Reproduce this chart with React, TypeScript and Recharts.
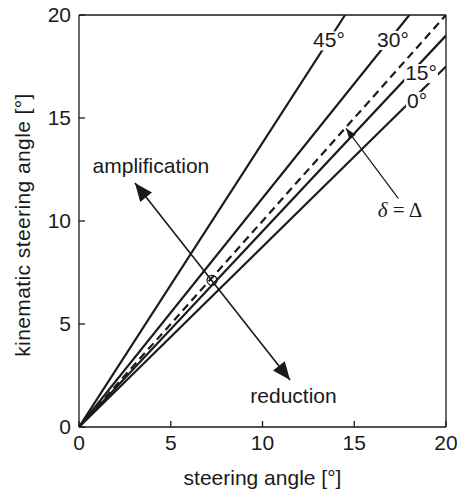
import React from 'react';
import { ComposedChart, Line, XAxis, YAxis, ReferenceLine, ReferenceDot } from 'recharts';

// kinematic steering angle vs steering angle for different angles
const line45 = [{ x: 0, y: 0 }, { x: 14.5, y: 20 }];
const line30 = [{ x: 0, y: 0 }, { x: 18.0, y: 20 }];
const line15 = [{ x: 0, y: 0 }, { x: 20, y: 19.0 }];
const line0 = [{ x: 0, y: 0 }, { x: 20, y: 17.5 }];
const identityLine = [{ x: 0, y: 0 }, { x: 20, y: 20 }];

const axisTicks = [0, 5, 10, 15, 20];

const angleLabels = [
  { text: '45°', x: 13.62, y: 18.43 },
  { text: '30°', x: 17.11, y: 18.45 },
  { text: '15°', x: 18.64, y: 16.84 },
  { text: '0°', x: 18.42, y: 15.49 },
];

const noteLabels = [
  { text: 'amplification', x: 3.92, y: 12.33 },
  { text: 'reduction', x: 11.69, y: 1.17 },
];

const deltaLabel = { x: 17.49, y: 10.19 };
const bigArrow = [{ x: 3.05, y: 11.84 }, { x: 11.5, y: 2.28 }];
const deltaArrow = [{ x: 17.4, y: 11.1 }, { x: 14.55, y: 14.5 }];
const circlePoint = { x: 7.25, y: 7.12 };

const FONT = '"Liberation Sans", Arial, Helvetica, sans-serif';
const INK = '#1a1a1a';
const FS = 21;

function head(tx: number, ty: number, fx: number, fy: number, len: number, hw: number) {
  const dx = tx - fx;
  const dy = ty - fy;
  const d = Math.sqrt(dx * dx + dy * dy) || 1;
  const ux = dx / d;
  const uy = dy / d;
  const bx = tx - ux * len;
  const by = ty - uy * len;
  const px = -uy * hw;
  const py = ux * hw;
  return `${tx},${ty} ${bx + px},${by + py} ${bx - px},${by - py}`;
}

const DoubleArrow = (p: any) => {
  const { x1, y1, x2, y2 } = p;
  return (
    <g>
      <line x1={x1} y1={y1} x2={x2} y2={y2} stroke={INK} strokeWidth={1.6} />
      <polygon points={head(x1, y1, x2, y2, 18, 7.5)} fill={INK} />
      <polygon points={head(x2, y2, x1, y1, 18, 7.5)} fill={INK} />
    </g>
  );
};

const SingleArrow = (p: any) => {
  const { x1, y1, x2, y2 } = p;
  return (
    <g>
      <line x1={x1} y1={y1} x2={x2} y2={y2} stroke={INK} strokeWidth={1.2} />
      <polygon points={head(x2, y2, x1, y1, 11, 4)} fill={INK} />
    </g>
  );
};

function textWidth(t: string, size: number) {
  let w = 0;
  for (const c of t) w += c === '°' ? 0.4 : 0.556;
  return w * size;
}

const maskedText = (text: string) => (p: any) => {
  const w = textWidth(text, FS);
  return (
    <g>
      <rect x={p.cx - w / 2 - 1} y={p.cy - 16} width={w + 2} height={19} fill="#ffffff" />
      <text x={p.cx} y={p.cy} textAnchor="middle" fontFamily={FONT} fontSize={FS} fill={INK}>
        {text}
      </text>
    </g>
  );
};

const plainText = (text: string) => (p: any) => (
  <text x={p.cx} y={p.cy} textAnchor="middle" fontFamily={FONT} fontSize={FS} fill={INK}>
    {text}
  </text>
);

const DeltaShape = (p: any) => (
  <text x={p.cx} y={p.cy} textAnchor="middle" fontFamily='"Liberation Serif", "DejaVu Serif", serif' fontSize={21} fill={INK}>
    <tspan fontStyle="italic">δ</tspan>
    <tspan> = Δ</tspan>
  </text>
);

const YLabel = (props: any) => {
  const vb = props.viewBox || { x: 0, y: 0, width: 0, height: 0 };
  const cx = vb.x + 12;
  const cy = vb.y + vb.height / 2 + 4;
  return (
    <text
      x={cx}
      y={cy}
      transform={`rotate(-90 ${cx} ${cy})`}
      textAnchor="middle"
      dominantBaseline="central"
      fontFamily={FONT}
      fontSize={FS}
      letterSpacing={0.4}
      fill={INK}
    >
      kinematic steering angle [°]
    </text>
  );
};

export default function App() {
  return (
    <div style={{ position: 'absolute', left: 0, top: 0, width: 457, height: 490, overflow: 'hidden' }}>
      <ComposedChart
        width={457}
        height={490}
        margin={{ top: 14, right: 10, left: 10, bottom: 8 }}
        style={{ fontFamily: FONT }}
      >
        <XAxis
          xAxisId="b"
          type="number"
          dataKey="x"
          domain={[0, 20]}
          ticks={axisTicks}
          allowDataOverflow
          height={55}
          stroke={INK}
          strokeWidth={1.3}
          tickSize={-6}
          tickMargin={14}
          tick={{ fill: INK, fontSize: FS, fontFamily: FONT }}
          label={{ value: 'steering angle [°]', position: 'insideBottom', offset: -3, fill: INK, fontSize: FS, fontFamily: FONT }}
        />
        <XAxis
          xAxisId="t"
          orientation="top"
          type="number"
          dataKey="x"
          domain={[0, 20]}
          ticks={axisTicks}
          allowDataOverflow
          height={1}
          stroke={INK}
          strokeWidth={1.3}
          tickSize={-6}
          tick={false}
        />
        <YAxis
          yAxisId="l"
          type="number"
          dataKey="y"
          domain={[0, 20]}
          ticks={axisTicks}
          allowDataOverflow
          width={69}
          stroke={INK}
          strokeWidth={1.3}
          tickSize={-6}
          tickMargin={14}
          tick={{ fill: INK, fontSize: FS, fontFamily: FONT }}
          label={<YLabel />}
        />
        <YAxis
          yAxisId="r"
          orientation="right"
          type="number"
          dataKey="y"
          domain={[0, 20]}
          ticks={axisTicks}
          allowDataOverflow
          width={1}
          stroke={INK}
          strokeWidth={1.3}
          tickSize={-6}
          tick={false}
        />
        <Line xAxisId="b" yAxisId="l" data={line45} dataKey="y" stroke={INK} strokeWidth={2.2} dot={false} isAnimationActive={false} />
        <Line xAxisId="b" yAxisId="l" data={line30} dataKey="y" stroke={INK} strokeWidth={2.2} dot={false} isAnimationActive={false} />
        <Line xAxisId="b" yAxisId="l" data={identityLine} dataKey="y" stroke={INK} strokeWidth={2.2} strokeDasharray="8 5" dot={false} isAnimationActive={false} />
        <Line xAxisId="b" yAxisId="l" data={line15} dataKey="y" stroke={INK} strokeWidth={2.2} dot={false} isAnimationActive={false} />
        <Line xAxisId="b" yAxisId="l" data={line0} dataKey="y" stroke={INK} strokeWidth={2.2} dot={false} isAnimationActive={false} />

        <ReferenceLine xAxisId="b" yAxisId="l" segment={bigArrow} shape={DoubleArrow} ifOverflow="visible" />
        <ReferenceLine xAxisId="b" yAxisId="l" segment={deltaArrow} shape={SingleArrow} ifOverflow="visible" />
        <ReferenceDot xAxisId="b" yAxisId="l" x={circlePoint.x} y={circlePoint.y} r={5} fill="none" stroke={INK} strokeWidth={1.2} />

        {angleLabels.map((l) => (
          <ReferenceDot key={l.text} xAxisId="b" yAxisId="l" x={l.x} y={l.y} r={0} shape={maskedText(l.text)} ifOverflow="visible" />
        ))}
        {noteLabels.map((l) => (
          <ReferenceDot key={l.text} xAxisId="b" yAxisId="l" x={l.x} y={l.y} r={0} shape={plainText(l.text)} ifOverflow="visible" />
        ))}
        <ReferenceDot xAxisId="b" yAxisId="l" x={deltaLabel.x} y={deltaLabel.y} r={0} shape={DeltaShape} ifOverflow="visible" />
      </ComposedChart>
    </div>
  );
}
